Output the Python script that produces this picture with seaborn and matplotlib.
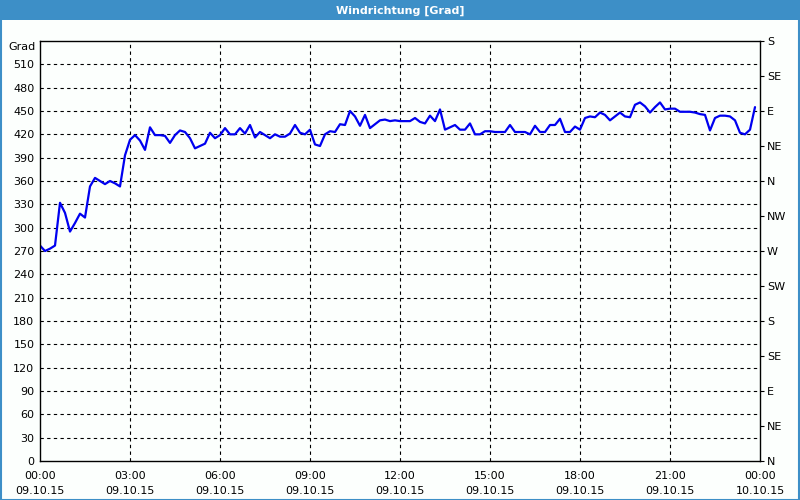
import matplotlib
matplotlib.use("Agg")
import matplotlib.pyplot as plt
import matplotlib.dates as mdates
from matplotlib.patches import Rectangle
import seaborn as sns
import pandas as pd
import numpy as np

# --- data (10-minute wind direction readings, degrees) ---
start_time = "2015-10-09 00:00"
interval = "10min"
direction = [
    277, 270, 273, 277, 332, 319, 295, 306, 318, 313,
    353, 364, 360, 356, 360, 357, 353, 393, 413, 419,
    412, 400, 429, 419, 419, 418, 409, 419, 425, 423,
    415, 402, 405, 408, 422, 415, 419, 428, 420, 420,
    428, 421, 432, 416, 423, 419, 415, 420, 417, 417,
    421, 432, 422, 420, 426, 407, 405, 420, 424, 423,
    433, 432, 450, 443, 431, 445, 428, 433, 438, 439,
    437, 438, 437, 437, 437, 441, 436, 434, 444, 437,
    452, 426, 429, 432, 426, 426, 434, 420, 420, 424,
    424, 423, 423, 423, 432, 423, 423, 423, 420, 431,
    423, 423, 432, 432, 440, 423, 423, 430, 426, 441,
    443, 442, 448, 445, 438, 443, 448, 443, 442, 458,
    461, 456, 448, 455, 461, 452, 453, 453, 449, 449,
    449, 448, 446, 445, 425, 441, 444, 444, 443, 438,
    422, 420, 426, 455,
]
left_ticks = list(range(0, 511, 30))
left_labels = [str(v) for v in left_ticks]
unit_label = "Grad"
right_ticks = list(range(0, 541, 45))
right_labels = ["N", "NE", "E", "SE", "S", "SW", "W", "NW", "N", "NE", "E", "SE", "S"]
title = "Windrichtung [Grad]"

times = pd.date_range(start_time, periods=len(direction), freq=interval)
df = pd.DataFrame({"time": times, "dir": direction})

sns.set_style("white")
plt.rcParams["font.family"] = ["DejaVu Sans"]
plt.rcParams["text.color"] = "black"
plt.rcParams["xtick.color"] = "black"
plt.rcParams["ytick.color"] = "black"
plt.rcParams["xtick.labelcolor"] = "black"
plt.rcParams["ytick.labelcolor"] = "black"

bg = "#fcfffd"
bar_blue = "#3d8fc7"
fig = plt.figure(figsize=(8, 5), dpi=100, facecolor=bg)

# title bar and frame
fig.patches.append(Rectangle((0, 1 - 20 / 500), 1, 20 / 500, transform=fig.transFigure,
                             facecolor=bar_blue, edgecolor="none", zorder=0))
fig.patches.append(Rectangle((0.5 / 800, 0.5 / 500), 1 - 2 / 800, 1 - 2 / 500, transform=fig.transFigure,
                             facecolor="none", edgecolor=bar_blue, linewidth=1.5, zorder=0))
fig.text(0.5, 1 - 10.5 / 500, title, color="white", fontsize=8, fontweight="bold",
         ha="center", va="center")

ax = fig.add_axes([40 / 800, 39 / 500, 720 / 800, 420 / 500])
ax.set_facecolor(bg)
sns.lineplot(data=df, x="time", y="dir", ax=ax, color="#0000f0", linewidth=1.6)

x0 = pd.Timestamp("2015-10-09 00:00")
x1 = pd.Timestamp("2015-10-10 00:00")
ax.set_xlim(x0, x1)
ax.set_ylim(0, 540)
ax.set_xlabel("")
ax.set_ylabel("")

ax.set_yticks(left_ticks)
ax.set_yticklabels(left_labels)
ax.annotate(unit_label, xy=(0, 540), xycoords=("axes fraction", "data"),
            xytext=(-3, -4), textcoords="offset points", ha="right", va="center",
            fontsize=8, color="black")
ax.xaxis.set_major_locator(mdates.HourLocator(byhour=range(0, 24, 3)))
ax.xaxis.set_minor_locator(mdates.HourLocator())
ax.xaxis.set_major_formatter(mdates.DateFormatter("%H:%M\n%d.%m.%y"))

for lab in ax.get_xticklabels():
    lab.set_linespacing(1.6)

ax.tick_params(axis="both", which="both", direction="out", length=3, width=0.8,
               colors="black", labelsize=8, pad=3)
ax.tick_params(axis="y", which="major", length=0, pad=4)
ax.tick_params(axis="x", which="major", pad=4)

# grid: dashed
for v in left_ticks[1:]:
    ax.axhline(v, color="black", linestyle=(0, (3, 3)), linewidth=0.8, zorder=1)
for h in range(3, 24, 3):
    ax.axvline(x0 + pd.Timedelta(hours=h), color="black", linestyle=(0, (3, 3)),
               linewidth=0.8, zorder=1)

for s in ax.spines.values():
    s.set_visible(True)
    s.set_color("black")
    s.set_linewidth(1.0)

ax2 = ax.twinx()
ax2.set_ylim(0, 540)
ax2.set_yticks(right_ticks)
ax2.set_yticklabels(right_labels)
ax2.tick_params(axis="y", direction="out", length=3, width=0.8, labelsize=8, pad=2,
                colors="black")
for s in ax2.spines.values():
    s.set_visible(False)

fig.savefig("out.png", dpi=100, facecolor=bg)
